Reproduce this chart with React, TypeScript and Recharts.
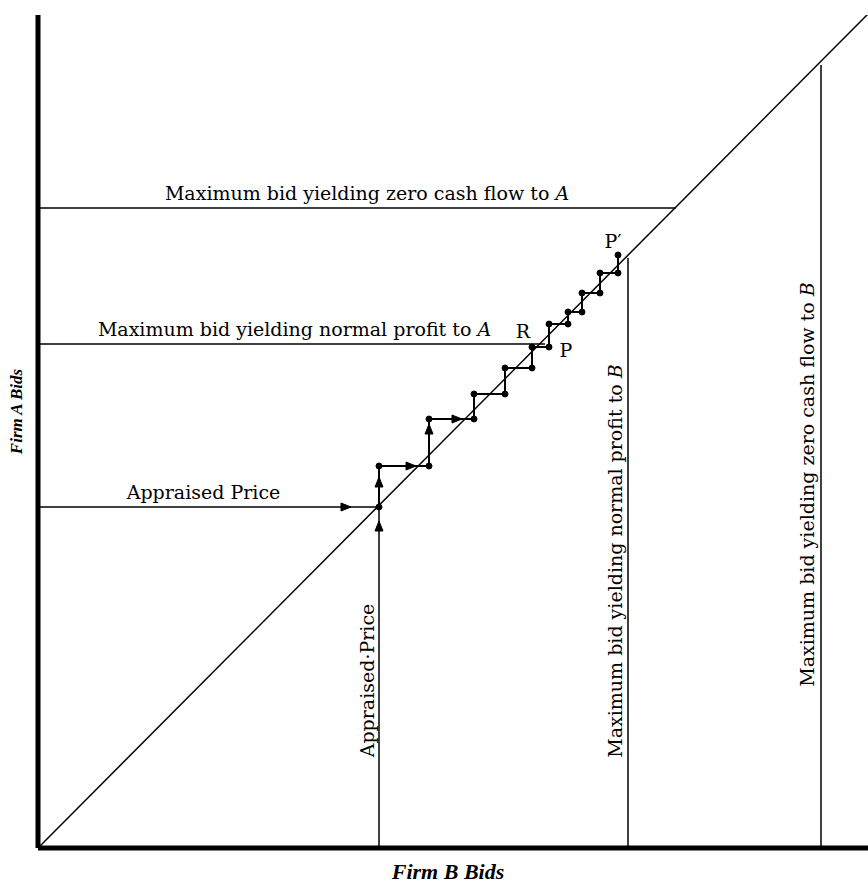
import { ComposedChart, Line, XAxis, YAxis, ReferenceLine, ReferenceDot, Scatter } from "recharts";

// bids in plot units (both axes share the same scale)
const diagonalLine = [
  { x: 0, y: 0 },
  { x: 830, y: 834 },
];
const appraisedPrice = 341;
const normalProfitA = 504;
const zeroCashFlowA = 640;
const normalProfitB = 590;
const zeroCashFlowB = 783;

const bidSequence = [
  { x: 341, y: 341 },
  { x: 341, y: 382 },
  { x: 391, y: 382 },
  { x: 391, y: 429 },
  { x: 436, y: 429 },
  { x: 436, y: 454 },
  { x: 467, y: 454 },
  { x: 467, y: 480 },
  { x: 494, y: 480 },
  { x: 494, y: 501 },
  { x: 511, y: 501 },
  { x: 511, y: 524 },
  { x: 530, y: 524 },
  { x: 530, y: 536 },
  { x: 544, y: 536 },
  { x: 544, y: 555 },
  { x: 562, y: 555 },
  { x: 562, y: 575 },
  { x: 580, y: 575 },
  { x: 580, y: 593 },
];

const arrowMarks = [
  { x: 307, y: 341, dir: "right" },
  { x: 341, y: 321, dir: "up" },
  { x: 341, y: 365, dir: "up" },
  { x: 372, y: 382, dir: "right" },
  { x: 391, y: 418, dir: "up" },
  { x: 418, y: 429, dir: "right" },
];

const pointTags = [
  { x: 507, y: 504, text: "R", dx: -22, dy: -6 },
  { x: 511, y: 501, text: "P", dx: 17, dy: 10 },
  { x: 580, y: 593, text: "P\u2032", dx: -5, dy: -7 },
];

const FONT = "'DejaVu Serif', serif";
const FS = 19;

function HLabel(props: any) {
  const { viewBox, lead, tail, dx = 0, dy = -8 } = props;
  const x = viewBox.x + viewBox.width / 2 + dx;
  const y = viewBox.y + dy;
  return (
    <text x={x} y={y} textAnchor="middle" fontFamily={FONT} fontSize={FS} fill="#000">
      {lead}
      {tail ? <tspan fontStyle="italic">{tail}</tspan> : null}
    </text>
  );
}

function VLabel(props: any) {
  const { viewBox, lead, tail, dx = -5, dy = 0 } = props;
  const x = viewBox.x + dx;
  const y = viewBox.y + viewBox.height / 2 + dy;
  return (
    <text
      x={x}
      y={y}
      textAnchor="middle"
      transform={`rotate(-90, ${x}, ${y})`}
      fontFamily={FONT}
      fontSize={FS}
      fill="#000"
    >
      {lead}
      {tail ? <tspan fontStyle="italic">{tail}</tspan> : null}
    </text>
  );
}

function PointTag(props: any) {
  const { viewBox, text, dx = 0, dy = 0 } = props;
  return (
    <text x={viewBox.x + dx} y={viewBox.y + dy} textAnchor="middle" fontFamily={FONT} fontSize={FS} fill="#000">
      {text}
    </text>
  );
}

function AxisTitle(props: any) {
  const { viewBox, text, vertical } = props;
  const base = {
    fontFamily: "'Liberation Serif', serif",
    fontStyle: "italic",
    fontWeight: "bold",
  } as const;
  if (vertical) {
    const x = 22;
    const y = viewBox.y + viewBox.height / 2 - 20;
    return (
      <text
        x={x}
        y={y}
        textAnchor="middle"
        transform={`rotate(-90, ${x}, ${y})`}
        fill="#000"
        style={{ ...base, fontSize: 17 }}
      >
        {text}
      </text>
    );
  }
  return (
    <text
      x={viewBox.x + viewBox.width / 2 - 5}
      y={viewBox.y + 31}
      textAnchor="middle"
      fill="#000"
      style={{ ...base, fontSize: 22 }}
    >
      {text}
    </text>
  );
}

function ArrowHead(props: any) {
  const { cx, cy, payload } = props;
  const pts =
    payload.dir === "up"
      ? `${cx},${cy - 6} ${cx - 4},${cy + 4} ${cx + 4},${cy + 4}`
      : `${cx + 6},${cy} ${cx - 4},${cy - 4} ${cx - 4},${cy + 4}`;
  return <polygon points={pts} fill="#000" stroke="#000" strokeWidth={1} />;
}

export default function App() {
  return (
    <div style={{ position: "absolute", left: 0, top: 0, width: 868, height: 884, background: "#fff" }}>
      <ComposedChart width={868} height={884} margin={{ top: 15, right: 0, left: 38, bottom: 36 }}>
        <XAxis type="number" dataKey="x" domain={[0, 830]} allowDataOverflow hide />
        <YAxis type="number" dataKey="y" domain={[0, 833]} allowDataOverflow hide />

        <ReferenceLine
          segment={[{ x: 0, y: 0 }, { x: 830, y: 0 }]}
          stroke="#000"
          strokeWidth={5}
          label={(p: any) => <AxisTitle {...p} text="Firm B Bids" />}
        />
        <ReferenceLine
          segment={[{ x: 0, y: 0 }, { x: 0, y: 833 }]}
          stroke="#000"
          strokeWidth={5}
          label={(p: any) => <AxisTitle {...p} text="Firm A Bids" vertical />}
        />

        <ReferenceLine
          segment={[{ x: 0, y: zeroCashFlowA }, { x: zeroCashFlowA - 2, y: zeroCashFlowA }]}
          stroke="#000"
          strokeWidth={1.5}
          label={(p: any) => <HLabel {...p} lead="Maximum bid yielding zero cash flow to " tail="A" dx={10} />}
        />
        <ReferenceLine
          segment={[{ x: 0, y: normalProfitA }, { x: normalProfitA + 3, y: normalProfitA }]}
          stroke="#000"
          strokeWidth={1.5}
          label={(p: any) => <HLabel {...p} lead="Maximum bid yielding normal profit to " tail="A" dx={3} />}
        />
        <ReferenceLine
          segment={[{ x: 0, y: appraisedPrice }, { x: appraisedPrice, y: appraisedPrice }]}
          stroke="#000"
          strokeWidth={1.5}
          label={(p: any) => <HLabel {...p} lead="Appraised Price" dx={-5} />}
        />
        <ReferenceLine
          segment={[{ x: appraisedPrice, y: 0 }, { x: appraisedPrice, y: appraisedPrice }]}
          stroke="#000"
          strokeWidth={1.5}
          label={(p: any) => <VLabel {...p} lead={"Appraised\u00b7Price"} dx={-5} dy={3} />}
        />
        <ReferenceLine
          segment={[{ x: normalProfitB, y: 0 }, { x: normalProfitB, y: normalProfitB }]}
          stroke="#000"
          strokeWidth={1.5}
          label={(p: any) => <VLabel {...p} lead="Maximum bid yielding normal profit to " tail="B" dx={-6} dy={8} />}
        />
        <ReferenceLine
          segment={[{ x: zeroCashFlowB, y: 0 }, { x: zeroCashFlowB, y: zeroCashFlowB }]}
          stroke="#000"
          strokeWidth={1.5}
          label={(p: any) => <VLabel {...p} lead="Maximum bid yielding zero cash flow to " tail="B" dx={-7} dy={28} />}
        />

        <Line
          data={diagonalLine}
          dataKey="y"
          type="linear"
          stroke="#000"
          strokeWidth={1.5}
          dot={false}
          isAnimationActive={false}
        />
        <Line
          data={bidSequence}
          dataKey="y"
          type="linear"
          stroke="#000"
          strokeWidth={2}
          dot={{ r: 3, fill: "#000", stroke: "#000", strokeWidth: 1 }}
          isAnimationActive={false}
        />
        <Scatter data={arrowMarks} dataKey="y" shape={ArrowHead} isAnimationActive={false} />

        {pointTags.map((t) => (
          <ReferenceDot
            key={t.text}
            x={t.x}
            y={t.y}
            r={0}
            fill="none"
            stroke="none"
            label={(p: any) => <PointTag {...p} text={t.text} dx={t.dx} dy={t.dy} />}
          />
        ))}
      </ComposedChart>
    </div>
  );
}
